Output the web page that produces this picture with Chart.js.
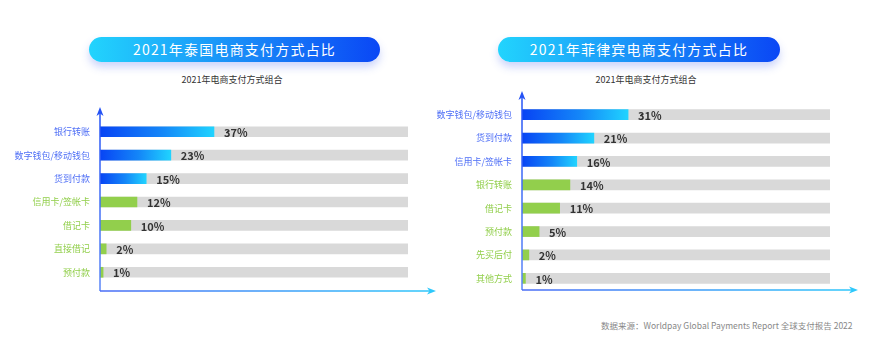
<!DOCTYPE html>
<html><head><meta charset="utf-8">
<script src="https://cdn.jsdelivr.net/npm/chart.js@4"></script>
<style>
html,body{margin:0;padding:0;}
body{width:875px;height:355px;background:#fff;position:relative;overflow:hidden;font-family:"Noto Sans CJK SC","Noto Sans",sans-serif;}
.pill{position:absolute;top:37px;height:25px;border-radius:13px;background:linear-gradient(90deg,#22d4fd 0%,#1a8ff8 50%,#0a47f5 100%);box-shadow:0 5px 9px rgba(70,100,240,0.28);color:#fff;font-size:14px;letter-spacing:1.2px;line-height:25px;text-align:center;}
.sub{position:absolute;top:73px;width:140px;text-align:center;font-size:9px;color:#333;}
.foot{position:absolute;left:601px;top:319px;font-size:8.5px;color:#888;white-space:nowrap;}
canvas{position:absolute;}
</style>
</head><body>
<div class="pill" style="left:89px;width:291px;">2021年泰国电商支付方式占比</div>
<div class="pill" style="left:498px;width:282px;">2021年菲律宾电商支付方式占比</div>
<div class="sub" style="left:162px;">2021年电商支付方式组合</div>
<div class="sub" style="left:576px;">2021年电商支付方式组合</div>
<div class="foot">数据来源：Worldpay Global Payments Report 全球支付报告 2022</div>
<canvas id="th" width="440" height="210" style="left:0;top:95px;"></canvas>
<canvas id="ph" width="445" height="220" style="left:430px;top:85px;"></canvas>
<script>
// ---- data ----
const thCategories = ['银行转账','数字钱包/移动钱包','货到付款','信用卡/签帐卡','借记卡','直接借记','预付款'];
const thValues = [37, 23, 15, 12, 10, 2, 1];
const phCategories = ['数字钱包/移动钱包','货到付款','信用卡/签帐卡','银行转账','借记卡','预付款','先买后付','其他方式'];
const phValues = [31, 21, 16, 14, 11, 5, 2, 1];
const highlightCount = 3;   // top entries drawn in blue
const thMax = 100;
const phMax = 90;

const BLUE_LABEL = '#4f6ff6';
const GREEN = '#92cf4c';
const TRACK = '#d9d9d9';

const decorPlugin = {
  id: 'decor',
  afterDatasetsDraw(chart, args, opts) {
    const ctx = chart.ctx, a = chart.chartArea;
    const x0 = a.left;
    const yb = a.bottom + opts.bottomExt, yt = a.top - opts.topExt, xr = a.right + opts.rightExt;
    ctx.save();
    // y axis
    let g = ctx.createLinearGradient(0, yb, 0, yt);
    g.addColorStop(0, '#5a86f8'); g.addColorStop(1, '#2452f5');
    ctx.lineWidth = 1.5; ctx.strokeStyle = g;
    ctx.beginPath(); ctx.moveTo(x0, yb); ctx.lineTo(x0, yt + 4); ctx.stroke();
    ctx.fillStyle = '#2452f5';
    ctx.beginPath(); ctx.moveTo(x0, yt - 1); ctx.lineTo(x0 + 3.5, yt + 8); ctx.lineTo(x0, yt + 5.5); ctx.lineTo(x0 - 3.5, yt + 8); ctx.closePath(); ctx.fill();
    // x axis
    g = ctx.createLinearGradient(x0, 0, xr, 0);
    g.addColorStop(0, '#4a6cf6'); g.addColorStop(1, '#2ec8fb');
    ctx.strokeStyle = g;
    ctx.beginPath(); ctx.moveTo(x0, yb); ctx.lineTo(xr - 4, yb); ctx.stroke();
    ctx.fillStyle = '#2ec8fb';
    ctx.beginPath(); ctx.moveTo(xr + 1, yb); ctx.lineTo(xr - 8, yb - 3.5); ctx.lineTo(xr - 5.5, yb); ctx.lineTo(xr - 8, yb + 3.5); ctx.closePath(); ctx.fill();
    // value labels
    const vals = chart.data.datasets[1].data;
    const meta = chart.getDatasetMeta(1);
    ctx.font = 'bold 11px "Noto Sans CJK SC", "Noto Sans", sans-serif';
    ctx.fillStyle = '#333';
    ctx.textBaseline = 'middle';
    ctx.textAlign = 'left';
    meta.data.forEach((bar, i) => { ctx.fillText(vals[i] + '%', bar.x + 10, bar.y + 1); });
    ctx.restore();
  }
};

function makeChart(id, cats, vals, max, yWidth, padding, ext) {
  const barColor = (c) => {
    if (c.index >= highlightCount) return GREEN;
    const ch = c.chart, xs = ch.scales && ch.scales.x;
    if (!xs || !ch.chartArea) return '#1a8ff8';
    const x0 = xs.getPixelForValue(0), x1 = xs.getPixelForValue(c.raw);
    const g = ch.ctx.createLinearGradient(x0, 0, x1, 0);
    g.addColorStop(0, '#0844f4'); g.addColorStop(0.55, '#1487f8'); g.addColorStop(1, '#20d3ff');
    return g;
  };
  return new Chart(document.getElementById(id), {
    type: 'bar',
    data: {
      labels: cats,
      datasets: [
        { data: cats.map(() => max), backgroundColor: TRACK, barThickness: 10, grouped: false, order: 2 },
        { data: vals, backgroundColor: barColor, barThickness: 10, grouped: false, order: 1 }
      ]
    },
    options: {
      indexAxis: 'y',
      responsive: false,
      animation: false,
      devicePixelRatio: 1,
      layout: { padding: padding },
      plugins: { legend: { display: false }, tooltip: { enabled: false }, decor: ext },
      scales: {
        x: { display: false, min: 0, max: max },
        y: {
          grid: { display: false }, border: { display: false },
          afterFit(scale) { scale.width = yWidth; },
          ticks: {
            padding: 2,
            font: { size: 9, family: '"Noto Sans CJK SC", sans-serif' },
            color: (c) => c.index < highlightCount ? BLUE_LABEL : GREEN
          }
        }
      }
    },
    plugins: [decorPlugin]
  });
}

makeChart('th', thCategories, thValues, thMax, 100, { left: 0, right: 32, top: 25, bottom: 21 }, { topExt: 12, bottomExt: 7, rightExt: 27 });
makeChart('ph', phCategories, phValues, phMax, 92, { left: 0, right: 45, top: 18, bottom: 15 }, { topExt: 11, bottomExt: 0, rightExt: 27 });
</script>
</body></html>
